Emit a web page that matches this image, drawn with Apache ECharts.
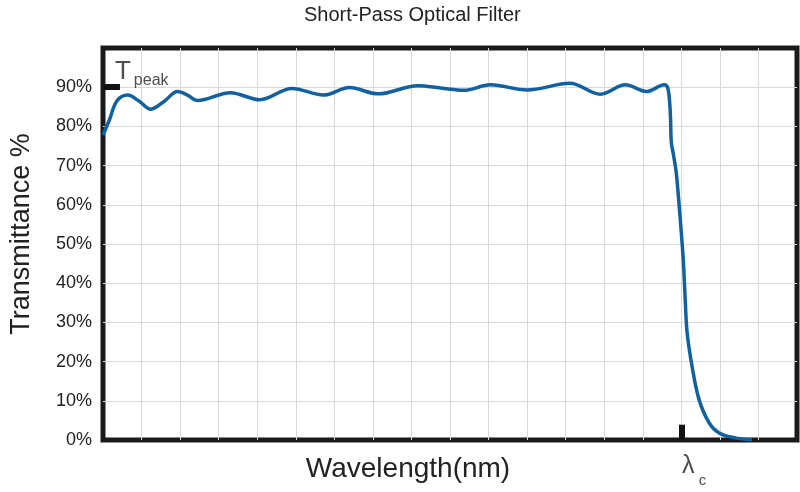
<!DOCTYPE html>
<html>
<head>
<meta charset="utf-8">
<script src="https://cdn.jsdelivr.net/npm/echarts@6/dist/echarts.min.js"></script>
<style>
  html, body { margin: 0; padding: 0; background: #fff; }
  #chart { width: 800px; height: 492px; }
</style>
</head>
<body>
<div id="chart"></div>
<script>
// wavelength position in grid divisions (0..18), transmittance in %
var wavelength = [0, 0.16, 0.36, 0.64, 0.93, 1.24, 1.6, 1.93, 2.19, 2.45, 3.3, 4.07, 4.9, 5.72, 6.39, 7.14, 8.17, 8.76, 9.36, 10.05, 11.0, 12.11, 12.9, 13.55, 14.1, 14.56, 14.64, 14.69, 14.72, 14.74, 14.8, 14.87, 14.95, 15.05, 15.1, 15.15, 15.28, 15.46, 15.72, 15.98, 16.37, 16.83];
var transmittance = [77.8, 81.5, 86.5, 88.0, 86.5, 84.4, 86.5, 88.9, 88.0, 86.6, 88.6, 86.8, 89.7, 88.0, 89.9, 88.3, 90.4, 89.8, 89.2, 90.6, 89.3, 91.0, 88.2, 90.6, 88.9, 90.6, 90.0, 87, 82, 76, 72.5, 68, 59, 46, 36, 27.4, 18.7, 10.3, 4.4, 1.8, 0.6, 0];
var yTicks = [0, 10, 20, 30, 40, 50, 60, 70, 80, 90, 100];

var peakLevel = 90;   // T peak marker
var cutoff = 15;      // lambda c marker position

var curve = wavelength.map(function (x, i) { return [x, transmittance[i]]; });

var chart = echarts.init(document.getElementById('chart'));
chart.setOption({
  animation: false,
  title: {
    text: 'Short-Pass Optical Filter',
    left: 299,
    top: 0,
    textStyle: { fontFamily: 'Liberation Sans', fontSize: 20, fontWeight: 'normal', color: '#222' }
  },
  grid: {
    left: 100, right: 3, top: 48, bottom: 52,
    show: true, borderColor: '#1a1a1a', borderWidth: 5
  },
  xAxis: {
    type: 'value', min: 0, max: 18, interval: 1,
    name: 'Wavelength(nm)', nameLocation: 'middle', nameGap: 15,
    nameTextStyle: { fontFamily: 'Liberation Sans', fontSize: 28, color: '#222', padding: [0, 84, 0, 0] },
    axisLine: { show: false }, axisTick: { show: false }, axisLabel: { show: false },
    splitLine: { show: true, showMinLine: false, showMaxLine: false, lineStyle: { color: '#d9d9d9', width: 1 } }
  },
  yAxis: {
    type: 'value', min: yTicks[0], max: yTicks[yTicks.length - 1], interval: 10,
    name: 'Transmittance %', nameLocation: 'middle', nameGap: 68,
    nameTextStyle: { fontFamily: 'Liberation Sans', fontSize: 27, color: '#222', padding: [0, 0, 0, 20] },
    axisLine: { show: false }, axisTick: { show: false },
    axisLabel: {
      margin: 11, fontFamily: 'Liberation Sans', fontSize: 18, color: '#222',
      formatter: function (v) { return v === 100 ? '' : v + '%'; }
    },
    splitLine: { show: true, showMinLine: false, showMaxLine: false, lineStyle: { color: '#d9d9d9', width: 1 } }
  },
  series: [
    {
      type: 'line',
      data: curve,
      smooth: 0.35,
      showSymbol: false,
      lineStyle: { color: '#11609f', width: 3.5 },
      z: 3
    },
    {
      type: 'scatter',
      symbolSize: 0,
      clip: false,
      silent: true,
      data: [
        { value: [0.52, 93.8], label: { formatter: 'T', fontSize: 26, align: 'center' } },
        { value: [0.8, 91.8], label: { formatter: 'peak', fontSize: 16, align: 'left' } },
        { value: [15.18, -6.6], label: { formatter: 'λ', fontSize: 25, align: 'center' } },
        { value: [15.45, -10.4], label: { formatter: 'c', fontSize: 15, align: 'left' } }
      ],
      label: { show: true, position: 'inside', color: '#222', fontFamily: 'Liberation Sans' },
      markLine: {
        silent: true,
        symbol: ['none', 'none'],
        label: { show: false },
        lineStyle: { color: '#111', width: 6, type: 'solid' },
        data: [
          [{ coord: [0, peakLevel] }, { coord: [0.44, peakLevel] }],
          [{ coord: [cutoff, 0] }, { coord: [cutoff, 3.9] }]
        ]
      },
      z: 4
    }
  ]
});
</script>
</body>
</html>
